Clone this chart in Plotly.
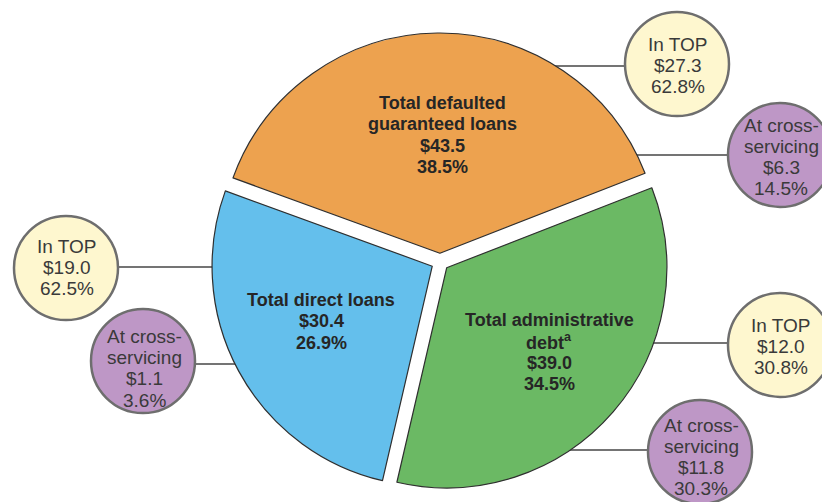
import plotly.graph_objects as go

W, H = 822, 502

# ---- data ----
slice_names = [["Total defaulted", "guaranteed loans"],
               ["Total administrative", "debt<sup>a</sup>"],
               ["Total direct loans"]]
slice_amounts = [43.5, 39.0, 30.4]
slice_colors = ["#EDA24F", "#6BB964", "#64BFEC"]

top_amounts = [27.3, 12.0, 19.0]
top_pcts = [62.8, 30.8, 62.5]
cs_amounts = [6.3, 11.8, 1.1]
cs_pcts = [14.5, 30.3, 3.6]

# ---- layout helpers (pixel -> paper) ----
def px(x):
    return x / W

def py(y):
    return 1 - y / H

total = sum(slice_amounts)

fig = go.Figure()
fig.add_trace(go.Pie(
    values=slice_amounts,
    labels=[" ".join(n).replace("<sup>a</sup>", "") for n in slice_names],
    marker=dict(colors=slice_colors, line=dict(color="#2f2f2f", width=1.2)),
    sort=False,
    direction="clockwise",
    rotation=-70,
    pull=[0.04, 0.04, 0.04],
    textinfo="none",
    hoverinfo="label+value+percent",
    domain=dict(x=[px(211), px(669)], y=[py(491), py(33)]),
    showlegend=False,
))

annotations = []
shapes = []

def add_lines(lines, x, y0, step, size, bold, color):
    for i, t in enumerate(lines):
        txt = f"<b>{t}</b>" if bold else t
        annotations.append(dict(
            x=px(x), y=py(y0 + i * step), xref="paper", yref="paper",
            text=txt, showarrow=False, xanchor="center", yanchor="middle",
            font=dict(family="Liberation Sans, Arial, sans-serif", size=size, color=color),
        ))

# slice labels: (x center, first line y)
slice_label_pos = [(442, 103), (549, 320), (321, 300)]
for names, v, (lx, ly) in zip(slice_names, slice_amounts, slice_label_pos):
    lines = list(names) + [f"${v:.1f}", f"{100 * v / total:.1f}%"]
    add_lines(lines, lx, ly, 21.4, 18, True, "#262626")

# bubbles: (circle cx, cy, text first-line y, connector y, connector x start)
R = 52
top_bubbles = [(677, 64, 44, 66, 540), (780, 345, 325, 343, 630), (66, 268, 246.5, 267, 235)]
cs_bubbles = [(780, 155, 125, 155, 620), (700, 452, 425, 450, 550), (143, 361, 336.5, 364, 255)]

def add_bubble(cx, cy, ty, ly, lx, fill, lines):
    # connector
    edge = cx - R if lx > cx else cx + R
    shapes.append(dict(type="line", xref="paper", yref="paper", layer="below",
                       x0=px(lx), x1=px(edge), y0=py(ly), y1=py(ly),
                       line=dict(color="#747474", width=2)))
    shapes.append(dict(type="circle", xref="paper", yref="paper", layer="above",
                       x0=px(cx - R), x1=px(cx + R), y0=py(cy - R), y1=py(cy + R),
                       fillcolor=fill, line=dict(color="#6e6e6e", width=2.5)))
    add_lines(lines, cx + 1, ty, 21.2, 19, False, "#3a3a3a")

for (cx, cy, ty, ly, lx), a, p in zip(top_bubbles, top_amounts, top_pcts):
    add_bubble(cx, cy, ty, ly, lx, "#FEF7CF", ["In TOP", f"${a:.1f}", f"{p:.1f}%"])

for (cx, cy, ty, ly, lx), a, p in zip(cs_bubbles, cs_amounts, cs_pcts):
    add_bubble(cx, cy, ty, ly, lx, "#BE97C6", ["At cross-", "servicing", f"${a:.1f}", f"{p:.1f}%"])

fig.update_layout(
    width=W, height=H,
    margin=dict(l=0, r=0, t=0, b=0, pad=0),
    paper_bgcolor="white", plot_bgcolor="white",
    shapes=shapes, annotations=annotations,
    showlegend=False,
)

fig.write_html("out.html")
